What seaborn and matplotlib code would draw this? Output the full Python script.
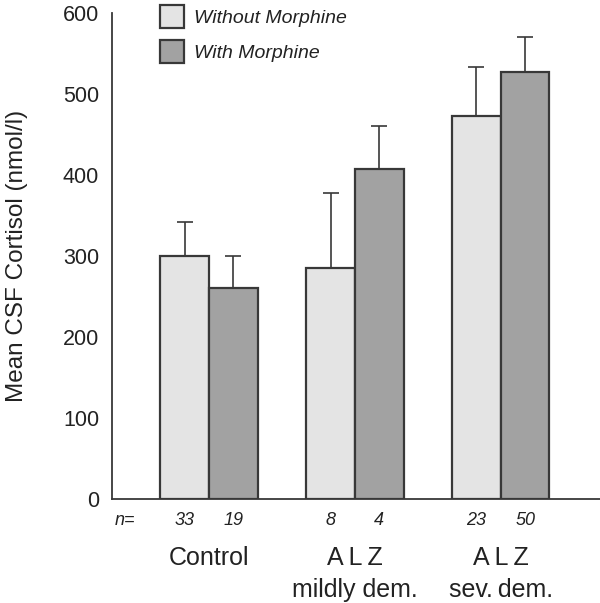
import matplotlib
matplotlib.use("Agg")
import matplotlib.pyplot as plt
from matplotlib.patches import Patch
import seaborn as sns
import pandas as pd

groups = ["Control", "A\u2009L\u2009Z\nmildly dem.", "A\u2009L\u2009Z\nsev.\u2009dem."]
conditions = ["Without Morphine", "With Morphine"]
mean_without = [300, 285, 472]
mean_with = [260, 407, 527]
err_without = [41, 93, 61]
err_with = [40, 53, 43]
n_without = [33, 8, 23]
n_with = [19, 4, 50]
yticks = [0, 100, 200, 300, 400, 500, 600]

light = "#e4e4e4"
dark = "#a2a2a2"
edge = "#383838"

df = pd.DataFrame({
    "group": groups * 2,
    "condition": [conditions[0]] * 3 + [conditions[1]] * 3,
    "cortisol": mean_without + mean_with,
})

sns.set_style("white")
plt.rcParams["font.family"] = ["Liberation Sans", "DejaVu Sans"]

fig = plt.figure(figsize=(6.0, 6.03), dpi=100)
ax = fig.add_axes([111.7 / 600, 1 - 498.7 / 603, 1 - 111.7 / 600, (498.7 - 12.7) / 603])

sns.barplot(data=df, x="group", y="cortisol", hue="condition", order=groups,
            hue_order=conditions, palette=[light, dark], saturation=1,
            width=0.667, edgecolor=edge, linewidth=1.6, errorbar=None,
            legend=False, ax=ax, zorder=3)

for cont, errs, ns in zip(ax.containers, [err_without, err_with], [n_without, n_with]):
    for bar, e, n in zip(cont, errs, ns):
        xc = bar.get_x() + bar.get_width() / 2
        h = bar.get_height()
        ax.errorbar([xc], [h], yerr=[[0], [e]], fmt="none", ecolor=edge,
                    elinewidth=1.2, capsize=6, capthick=1.2, zorder=2)
        ax.text(xc, -0.044, str(n), transform=ax.get_xaxis_transform(),
                ha="center", va="center", fontsize=13, style="italic",
                color="#222222")

ax.text(-0.576, -0.044, "n=", transform=ax.get_xaxis_transform(),
        ha="center", va="center", fontsize=13, style="italic", color="#222222")

ax.set_xlim(-0.667, 2.68)
ax.set_ylim(0, 600)
ax.set_yticks(yticks)
ax.set_yticklabels([str(t) for t in yticks])
ax.tick_params(axis="y", direction="in", length=5, width=1.2, color=edge,
               pad=9, labelsize=15.5, labelcolor="#222222")
ax.tick_params(axis="x", length=0, pad=34, labelsize=18, labelcolor="#222222")
for lab in ax.get_xticklabels():
    lab.set_linespacing(1.45)
ax.set_xlabel("")
ax.set_ylabel("Mean CSF Cortisol (nmol/l)", fontsize=17.5, color="#222222")
ax.yaxis.set_label_coords(-0.171, 0.5)

for s in ["top", "right"]:
    ax.spines[s].set_visible(False)
for s in ["left", "bottom"]:
    ax.spines[s].set_color(edge)
    ax.spines[s].set_linewidth(1.3)

handles = [Patch(facecolor=light, edgecolor=edge, linewidth=1.6),
           Patch(facecolor=dark, edgecolor=edge, linewidth=1.6)]
leg = fig.legend(handles, conditions, loc="upper left",
                 bbox_to_anchor=(160 / 600, 1 - 5 / 603), frameon=False,
                 borderpad=0, borderaxespad=0, handlelength=1.24,
                 handleheight=1.44, handletextpad=0.5, labelspacing=0.62,
                 prop={"size": 14, "style": "italic"})
for t in leg.get_texts():
    t.set_color("#222222")

fig.savefig("out.png", dpi=100)
